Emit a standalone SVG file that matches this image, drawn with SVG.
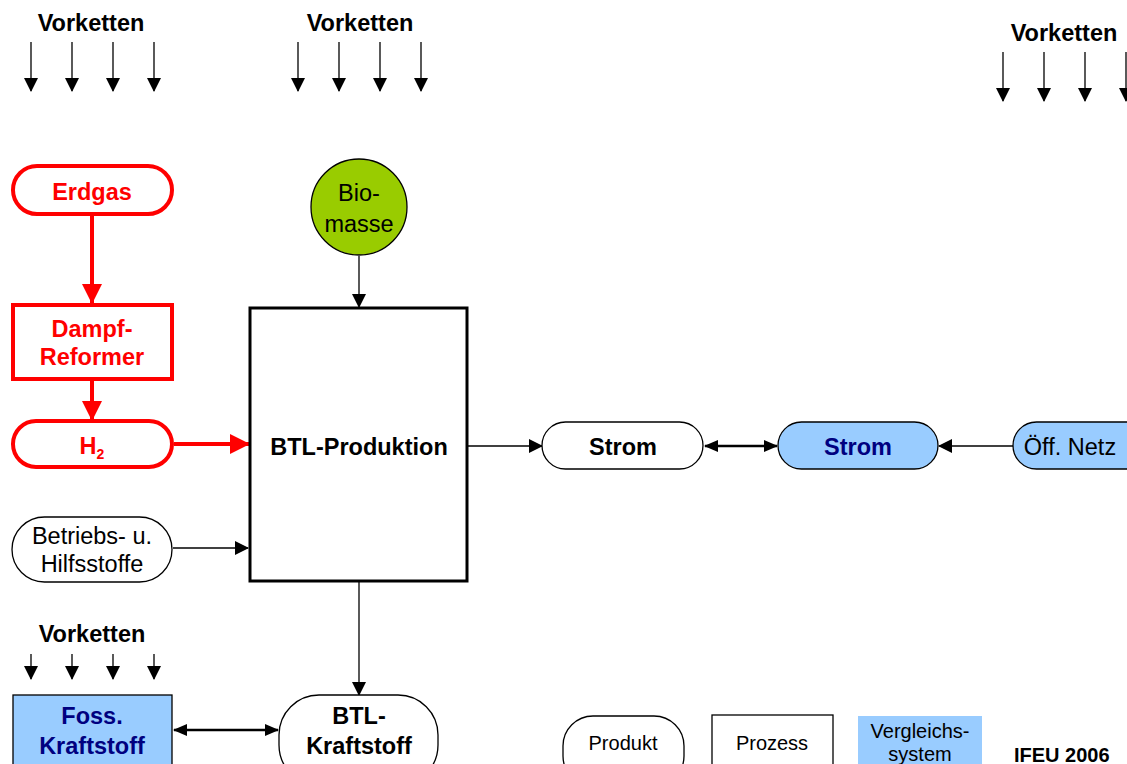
<svg xmlns="http://www.w3.org/2000/svg" width="1127" height="764" viewBox="0 0 1127 764">
<defs>
<marker id="ahb" markerWidth="14" markerHeight="14" refX="13" refY="7" orient="auto-start-reverse" markerUnits="userSpaceOnUse" viewBox="0 0 14 14"><path d="M0,1 L14,7 L0,13 z" fill="#000"/></marker>
<marker id="ahr" markerWidth="20" markerHeight="20" refX="19" refY="10" orient="auto" markerUnits="userSpaceOnUse" viewBox="0 0 20 20"><path d="M0,0 L20,10 L0,20 z" fill="#ff0000"/></marker>
<marker id="ahs" markerWidth="14" markerHeight="14" refX="13" refY="7" orient="auto" markerUnits="userSpaceOnUse" viewBox="0 0 14 14"><path d="M0,0 L14,7 L0,14 z" fill="#000"/></marker>
</defs>
<style>
text{font-family:"Liberation Sans",Arial,sans-serif;text-anchor:middle}
.b{font-weight:bold}
.t20{font-size:23.5px}
.t21{font-size:23.5px}
.t17{font-size:20px}
.red{fill:#ff0000}
.navy{fill:#000080}
.rn{fill:#fff;stroke:#ff0000;stroke-width:4}
.bn{fill:#fff;stroke:#000;stroke-width:1.3}
.blue{fill:#99ccff;stroke:#000;stroke-width:1.3}
.c{fill:none;stroke:#000;stroke-width:1.3}
.cr{fill:none;stroke:#ff0000;stroke-width:4}
.cb{fill:none;stroke:#000;stroke-width:2.6}
</style>
<rect width="1127" height="764" fill="#fff"/>

<g id="vorketten1">
<text x="91" y="31" class="b t20">Vorketten</text>
<line x1="31" y1="42" x2="31" y2="91" class="c" marker-end="url(#ahs)"/>
<line x1="72" y1="42" x2="72" y2="91" class="c" marker-end="url(#ahs)"/>
<line x1="113" y1="42" x2="113" y2="91" class="c" marker-end="url(#ahs)"/>
<line x1="154" y1="42" x2="154" y2="91" class="c" marker-end="url(#ahs)"/>
</g>
<g id="vorketten2">
<text x="360" y="31" class="b t20">Vorketten</text>
<line x1="298" y1="42" x2="298" y2="91" class="c" marker-end="url(#ahs)"/>
<line x1="339" y1="42" x2="339" y2="91" class="c" marker-end="url(#ahs)"/>
<line x1="380" y1="42" x2="380" y2="91" class="c" marker-end="url(#ahs)"/>
<line x1="421" y1="42" x2="421" y2="91" class="c" marker-end="url(#ahs)"/>
</g>
<g id="vorketten3">
<text x="1064" y="41" class="b t20">Vorketten</text>
<line x1="1003" y1="52" x2="1003" y2="101" class="c" marker-end="url(#ahs)"/>
<line x1="1044" y1="52" x2="1044" y2="101" class="c" marker-end="url(#ahs)"/>
<line x1="1085" y1="52" x2="1085" y2="101" class="c" marker-end="url(#ahs)"/>
<line x1="1126" y1="52" x2="1126" y2="101" class="c" marker-end="url(#ahs)"/>
</g>
<g id="vorketten4">
<text x="92" y="642" class="b t20">Vorketten</text>
<line x1="31" y1="654" x2="31" y2="679" class="c" marker-end="url(#ahs)"/>
<line x1="72" y1="654" x2="72" y2="679" class="c" marker-end="url(#ahs)"/>
<line x1="113" y1="654" x2="113" y2="679" class="c" marker-end="url(#ahs)"/>
<line x1="154" y1="654" x2="154" y2="679" class="c" marker-end="url(#ahs)"/>
</g>

<g id="connectors">
<line x1="92" y1="215" x2="92" y2="303" class="cr" marker-end="url(#ahr)"/>
<line x1="92" y1="381" x2="92" y2="420" class="cr" marker-end="url(#ahr)"/>
<line x1="174" y1="444" x2="249" y2="444" class="cr" marker-end="url(#ahr)"/>
<line x1="359" y1="256" x2="359" y2="307" class="c" marker-end="url(#ahs)"/>
<line x1="468" y1="446" x2="542" y2="446" class="c" marker-end="url(#ahs)"/>
<line x1="705" y1="446" x2="777" y2="446" class="cb" marker-start="url(#ahb)" marker-end="url(#ahb)"/>
<line x1="1013" y1="446" x2="939" y2="446" class="c" marker-end="url(#ahs)"/>
<line x1="173" y1="548" x2="248" y2="548" class="c" marker-end="url(#ahs)"/>
<line x1="359" y1="582" x2="359" y2="695" class="c" marker-end="url(#ahs)"/>
<line x1="174" y1="730" x2="278" y2="730" class="cb" marker-start="url(#ahb)" marker-end="url(#ahb)"/>
</g>

<g id="erdgas">
<rect x="13" y="166" width="159" height="48" rx="24" class="rn"/>
<text x="92" y="200" class="b t20 red">Erdgas</text>
</g>
<g id="dampfreformer">
<rect x="13" y="305" width="159" height="74" class="rn"/>
<text x="92" y="337" class="b t20 red">Dampf-</text>
<text x="92" y="365" class="b t20 red">Reformer</text>
</g>
<g id="h2">
<rect x="13" y="421" width="159" height="46" rx="23" class="rn"/>
<text x="92" y="454" class="b t20 red">H<tspan font-size="14" dy="5">2</tspan></text>
</g>
<g id="biomasse">
<circle cx="359" cy="207" r="48" fill="#99cc00" stroke="#000" stroke-width="1.3"/>
<text x="359" y="201" class="t21">Bio-</text>
<text x="359" y="232" class="t21">masse</text>
</g>
<g id="btlproduktion">
<rect x="250" y="308" width="217" height="273" fill="#fff" stroke="#000" stroke-width="3"/>
<text x="359" y="455" class="b t21">BTL-Produktion</text>
</g>
<g id="strom1">
<rect x="542" y="422" width="161" height="47" rx="23.5" class="bn"/>
<text x="623" y="455" class="b t21">Strom</text>
</g>
<g id="strom2">
<rect x="778" y="422" width="160" height="47" rx="23.5" class="blue"/>
<text x="858" y="455" class="b t21 navy">Strom</text>
</g>
<g id="oeffnetz">
<rect x="1013" y="422" width="140" height="47" rx="23.5" class="blue"/>
<text x="1070" y="455" class="t21">Öff. Netz</text>
</g>
<g id="betriebsstoffe">
<rect x="12" y="517" width="160" height="65" rx="32.5" class="bn"/>
<text x="92" y="544" class="t20">Betriebs- u.</text>
<text x="92" y="572" class="t20">Hilfsstoffe</text>
</g>
<g id="fosskraftstoff">
<rect x="13" y="695" width="159" height="80" class="blue"/>
<text x="92" y="724" class="b t20 navy">Foss.</text>
<text x="92" y="754" class="b t20 navy">Kraftstoff</text>
</g>
<g id="btlkraftstoff">
<rect x="279" y="695" width="159" height="90" rx="40" class="bn"/>
<text x="359" y="724" class="b t20">BTL-</text>
<text x="359" y="754" class="b t20">Kraftstoff</text>
</g>

<g id="legend">
<rect x="563" y="716" width="121" height="70" rx="30" class="bn"/>
<text x="623" y="750" class="t17">Produkt</text>
<rect x="712" y="715" width="121" height="70" class="bn"/>
<text x="772" y="750" class="t17">Prozess</text>
<rect x="858" y="716" width="124" height="60" fill="#99ccff"/>
<text x="920" y="738" class="t17">Vergleichs-</text>
<text x="920" y="761" class="t17">system</text>
<text x="1014" y="762" class="b" font-size="20" text-anchor="start" style="text-anchor:start">IFEU 2006</text>
</g>
</svg>
